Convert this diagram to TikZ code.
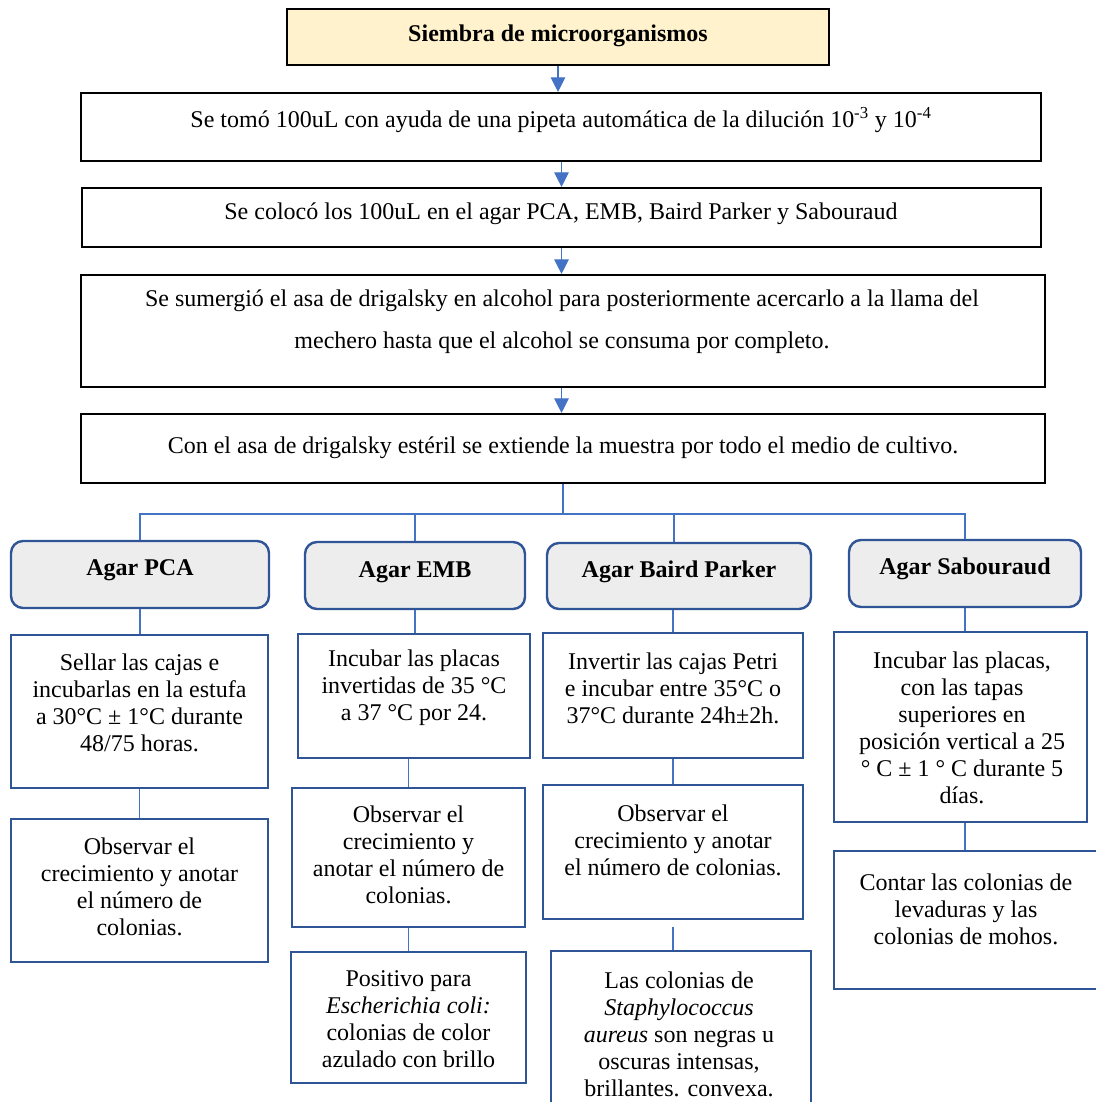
\documentclass[tikz,border=0pt]{standalone}
\usepackage{fontspec}
\setmainfont{Liberation Serif}
\usetikzlibrary{arrows.meta}
\definecolor{arrowblue}{HTML}{4472C4}
\definecolor{boxblue}{HTML}{2F5597}
\definecolor{titlefill}{HTML}{FFF2CC}
\definecolor{agarfill}{HTML}{EDEDED}
\begin{document}
\begin{tikzpicture}[x=0.75pt,y=-0.75pt,
  sz/.style 2 args={minimum width=#1*0.75pt, minimum height=#2*0.75pt},
  blackbox/.style={draw=black, line width=1.6pt, inner sep=0pt, fill=white},
  agarbox/.style={draw=boxblue, line width=1.8pt, inner sep=0pt, fill=agarfill, rounded corners=9pt},
  stepbox/.style={draw=boxblue, line width=1.8pt, inner sep=0pt, fill=white},
  txt/.style={inner sep=0pt, align=center, font=\fontsize{18}{20.25}\selectfont},
  bigtxt/.style={inner sep=0pt, align=center, font=\fontsize{18}{20.25}\selectfont},
  agartxt/.style={inner sep=0pt, align=center, font=\fontsize{18}{20.25}\selectfont\bfseries},
  conn/.style={draw=arrowblue, line width=0.9pt},
  arr/.style={conn, -{Triangle[width=11pt,length=11pt]}}
]
\useasboundingbox (0,0) rectangle (1095,1102);

% top chain
\node[blackbox, fill=titlefill, sz={542}{56}] (title) at (558,37) {};
\node[txt, font=\fontsize{18}{20.25}\selectfont\bfseries] (titletxt) at (558,36) {Siembra de microorganismos};

\node[blackbox, sz={960}{68}] (b1) at (561,127) {};
\node[bigtxt] (b1txt) at (561,120) {Se tomó 100uL con ayuda de una pipeta automática de la dilución 10\textsuperscript{-3} y 10\textsuperscript{-4}};

\node[blackbox, sz={959}{59}] (b2) at (561.5,217.5) {};
\node[bigtxt] (b2txt) at (561,214) {Se colocó los 100uL en el agar PCA, EMB, Baird Parker y Sabouraud};

\node[blackbox, sz={964}{112}] (b3) at (563,331) {};
\node[bigtxt, font=\fontsize{18}{31.5}\selectfont] (b3txt) at (562,322) {Se sumergió el asa de drigalsky en alcohol para posteriormente acercarlo a la llama del\\mechero hasta que el alcohol se consuma por completo.};

\node[blackbox, sz={964}{69}] (b4) at (563,448.5) {};
\node[bigtxt] (b4txt) at (563,448) {Con el asa de drigalsky estéril se extiende la muestra por todo el medio de cultivo.};

\draw[arr] (title.south) -- (title.south |- b1.north);
\draw[arr] (b1.south -| b2.north) -- (b2.north);
\draw[arr] (b2.south) -- (b2.south |- b3.north);
\draw[arr] (b3.south -| b2.south) -- (b2.south |- b4.north);

% agar boxes
\node[agarbox, sz={258}{67}] (pca) at (140,574.5) {};
\node[agartxt] (pcatxt) at (140,570) {Agar PCA};
\node[agarbox, sz={220}{67}] (emb) at (415,575.5) {};
\node[agartxt] (embtxt) at (415,572) {Agar EMB};
\node[agarbox, sz={264}{66}] (bp) at (679,576) {};
\node[agartxt] (bptxt) at (679,572) {Agar Baird Parker};
\node[agarbox, sz={232}{67}] (sab) at (965,573.5) {};
\node[agartxt] (sabtxt) at (965,569) {Agar Sabouraud};

\coordinate (bus) at (563,514);
\draw[conn] (b4.south) -- (bus);
\draw[conn] (pca.north) |- (bus) -| (sab.north);
\draw[conn] (emb.north) -- (emb.north |- bus);
\draw[conn] ([xshift=-3.75pt]bp.north) -- ([xshift=-3.75pt]bp.north |- bus);

% PCA column
\node[stepbox, sz={257}{153}] (pca1) at (139.5,711.5) {};
\node[txt] (pca1txt) at (139.5,702.5) {Sellar las cajas e\\incubarlas en la estufa\\a 30°C ± 1°C durante\\48/75 horas.};
\node[stepbox, sz={257}{143}] (pca2) at (139.5,890.5) {};
\node[txt] (pca2txt) at (139.5,887) {Observar el\\crecimiento y anotar\\el número de\\colonias.};
\draw[conn] (pca.south) -- (pca.south |- pca1.north);
\draw[conn] (pca1.south) -- (pca2.north);

% EMB column
\node[stepbox, sz={232}{124}] (emb1) at (414,696) {};
\node[txt] (emb1txt) at (414,687.5) {Incubar las placas\\invertidas de 35 °C\\a 37 °C por 24.};
\node[stepbox, sz={233}{139}] (emb2) at (408.5,857.5) {};
\node[txt] (emb2txt) at (408.5,855) {Observar el\\crecimiento y\\anotar el número de\\colonias.};
\node[stepbox, sz={235}{131}] (emb3) at (408.5,1017.5) {};
\node[txt] (emb3txt) at (408.5,1019.5) {Positivo para\\\textit{Escherichia coli:}\\colonias de color\\azulado con brillo};
\draw[conn] (emb.south) -- (emb.south |- emb1.north);
\draw[conn] (emb1.south -| emb2.north) -- (emb2.north);
\draw[conn] (emb2.south) -- (emb2.south |- emb3.north);

% Baird Parker column
\node[stepbox, sz={260}{125}] (bp1) at (673,695.5) {};
\node[txt] (bp1txt) at (673,688) {Invertir las cajas Petri\\e incubar entre 35°C o\\37°C durante 24h±2h.};
\node[stepbox, sz={260}{134}] (bp2) at (673,852) {};
\node[txt] (bp2txt) at (673,840) {Observar el\\crecimiento y anotar\\el número de colonias.};
\node[stepbox, sz={260}{161}] (bp3) at (681,1031.5) {};
\node[txt] (bp3txt) at (679,1034) {Las colonias de\\\textit{Staphylococcus}\\\textit{aureus} son negras u\\oscuras intensas,\\brillantes. convexa.};
\draw[conn] (bp.south -| bp1.north) -- (bp1.north);
\draw[conn] (bp1.south) -- (bp2.north);
\draw[conn, shorten <=5.25pt] (bp2.south) -- (bp2.south |- bp3.north);

% Sabouraud column
\node[stepbox, sz={253}{190}] (sab1) at (960.5,727) {};
\node[txt] (sab1txt) at (962,728) {Incubar las placas,\\con las tapas\\superiores en\\posición vertical a 25\\° C ± 1 ° C durante 5\\días.};
\node[stepbox, sz={271}{138}] (sab2) at (969.5,920) {};
\node[txt] (sab2txt) at (966,909.5) {Contar las colonias de\\levaduras y las\\colonias de mohos.};
\draw[conn] (sab.south) -- (sab.south |- sab1.north);
\draw[conn] (sab1.south -| sab.south) -- (sab.south |- sab2.north);
\end{tikzpicture}
\end{document}
